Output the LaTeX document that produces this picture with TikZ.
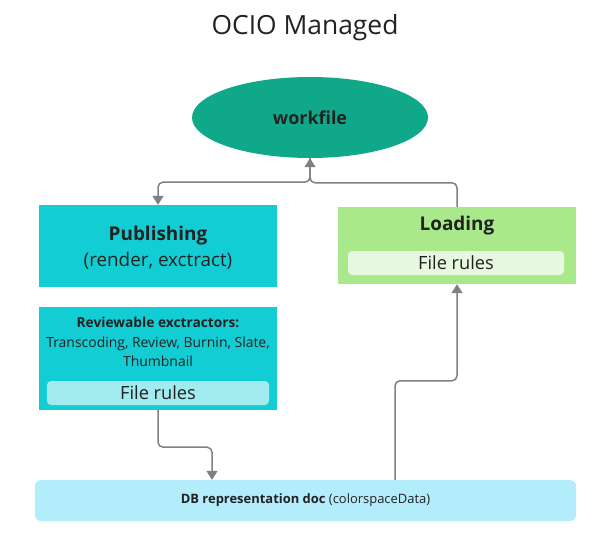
\documentclass[tikz,border=0pt]{standalone}
\usepackage{fontspec}
\setmainfont{Open Sans}
\usetikzlibrary{arrows.meta,shapes.geometric}
\definecolor{wfgreen}{HTML}{0FA98A}
\definecolor{pubcyan}{HTML}{13CDD4}
\definecolor{pubrule}{HTML}{A2EBEE}
\definecolor{loadgreen}{HTML}{A9E98B}
\definecolor{loadrule}{HTML}{E6F8DF}
\definecolor{dbblue}{HTML}{B3ECFB}
\definecolor{txt}{HTML}{222222}
\definecolor{linegray}{HTML}{808080}
\newcommand{\fs}[1]{\fontsize{#1}{#1}\selectfont}
\begin{document}
\begin{tikzpicture}[x=1bp,y=-1bp,
		box/.style={rectangle,inner sep=0pt,text=txt},
		rulebox/.style={rectangle,rounded corners=4bp,inner sep=0pt,minimum height=24bp,text=txt,font=\fs{18.3}},
		lbl/.style={anchor=base,inner sep=0pt,text=txt},
		conn/.style={draw=linegray,line width=1.5bp,rounded corners=5bp,-{Triangle[length=9bp,width=11bp]}}]
	%					\draw[help lines](0,0)grid(607,542);
	\useasboundingbox (0,0) rectangle (607,542);
	
	\node (title) at(305,35)[lbl,font=\fs{26.5}]{OCIO Managed};
	
	\node (workfile) at(310,117.5)[ellipse,fill=wfgreen,minimum width=236bp,minimum height=81bp,inner sep=0pt,text=txt,font=\fs{18}\bfseries]{workfile};
	
	% publishing side
	\node (publishing) at(158,246)[box,fill=pubcyan,minimum width=238bp,minimum height=82bp]{};
	\node (pubname) at(158,241)[lbl,font=\fs{19}\bfseries]{Publishing};
	\node (pubsub) at(158,266)[lbl,font=\fs{18.9}]{(render, exctract)};
	
	\node (reviewable) at(158,358.5)[box,fill=pubcyan,minimum width=238bp,minimum height=103bp]{};
	\node (revhead) at(158,327)[lbl,font=\fs{13.8}\bfseries]{Reviewable exctractors:};
	\node (revlist) at(158,347)[lbl,font=\fs{14}]{Transcoding, Review, Burnin, Slate,};
	\node (revlast) at(158,366)[lbl,font=\fs{14}]{Thumbnail};
	\node (revrules) at(158,393)[rulebox,fill=pubrule,minimum width=222bp]{File rules};
	
	% loading side
	\node (loading) at(457,245.5)[box,fill=loadgreen,minimum width=238bp,minimum height=77bp]{};
	\node (loadname) at(457,231)[lbl,font=\fs{19}\bfseries]{Loading};
	\node (loadrules) at(456,263)[rulebox,fill=loadrule,minimum width=216bp]{File rules};
	
	\node (db) at(305.5,500.5)[box,fill=dbblue,rounded corners=6bp,minimum width=541bp,minimum height=41bp,font=\fs{13}]{\textbf{DB representation doc} (colorspaceData)};
	
	\draw [conn](workfile.south)--++(0,24)-|(publishing.north);
	\draw [conn](loading.north)--++(0,-24)-|(workfile.south);
	\draw [conn](reviewable.south)--++(0,37)-|([xshift=-93.5bp]db.north);
	\draw [conn]([xshift=89.5bp]db.north)--++(0,-99)-|(loading.south);
	
\end{tikzpicture}
\end{document}
